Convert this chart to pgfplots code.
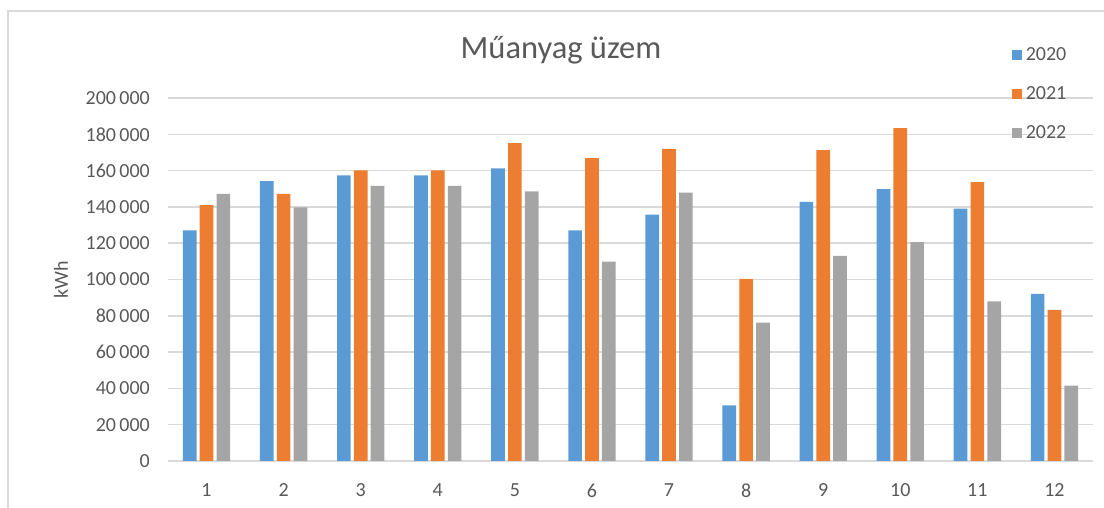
\documentclass[border=0pt]{standalone}
\usepackage{fontspec}
\setmainfont{Carlito}
\usepackage{pgfplots}
\pgfplotsset{compat=1.18}
\definecolor{cBlue}{HTML}{5B9BD5}
\definecolor{cOrange}{HTML}{ED7D31}
\definecolor{cGray}{HTML}{A5A5A5}
\definecolor{cGrid}{HTML}{D9D9D9}
\definecolor{cText}{HTML}{595959}
\begin{document}
\begin{tikzpicture}
\useasboundingbox (0,0) rectangle (662.4pt,304.8pt);
\draw[color=cGrid, line width=0.8pt] (4.8pt,0) -- (4.8pt,298.2pt) -- (662.4pt,298.2pt);
\node[font=\fontsize{19.5}{22}\selectfont, text=cText] at (336.6pt,274.8pt) {Műanyag üzem};
\begin{axis}[
  at={(100.8pt,28.2pt)}, anchor=south west,
  scale only axis, width=555pt, height=217.8pt,
  xmin=0.5, xmax=12.5, ymin=0, ymax=200000,
  xtick={1,...,12}, ytick={0,20000,...,200000},
  ybar=1.9pt, bar width=8.2pt,
  axis line style={draw=none},
  major tick length=0pt,
  ymajorgrids, grid style={color=cGrid, line width=0.9pt},
  scaled y ticks=false,
  /pgf/number format/.cd, fixed, 1000 sep={\,}, assume math mode=true, /pgfplots/.cd,
  tick label style={font=\fontsize{12}{14}\selectfont, text=cText},
  yticklabel style={xshift=-7.4pt},
  xticklabel style={yshift=-10pt},
  ylabel={kWh},
  ylabel style={at={(axis description cs:-0.1157,0.5)}, anchor=center, font=\fontsize{12}{14}\selectfont, text=cText},
  legend style={at={(axis description cs:0.9126,1.149)}, anchor=north west, draw=none, fill=none,
    font=\fontsize{12}{14}\selectfont, text=cText, row sep=10.1pt, inner sep=0pt},
  legend cell align=left,
  legend image code/.code={\path[#1,draw=none] (0pt,-3pt) rectangle (6pt,3pt);},
]
\addplot[fill=cBlue, draw=none] coordinates {(1,127000) (2,154200) (3,157300) (4,157300) (5,161200) (6,127000) (7,135800) (8,30700) (9,142800) (10,149800) (11,139100) (12,92100)};
\addplot[fill=cOrange, draw=none] coordinates {(1,141000) (2,147200) (3,160100) (4,160100) (5,175200) (6,166900) (7,172000) (8,100400) (9,171300) (10,183400) (11,153700) (12,83300)};
\addplot[fill=cGray, draw=none] coordinates {(1,147200) (2,139700) (3,151600) (4,151600) (5,148500) (6,109900) (7,147800) (8,76300) (9,113000) (10,120600) (11,87900) (12,41500)};
\legend{2020,2021,2022}
\end{axis}
\end{tikzpicture}
\end{document}
